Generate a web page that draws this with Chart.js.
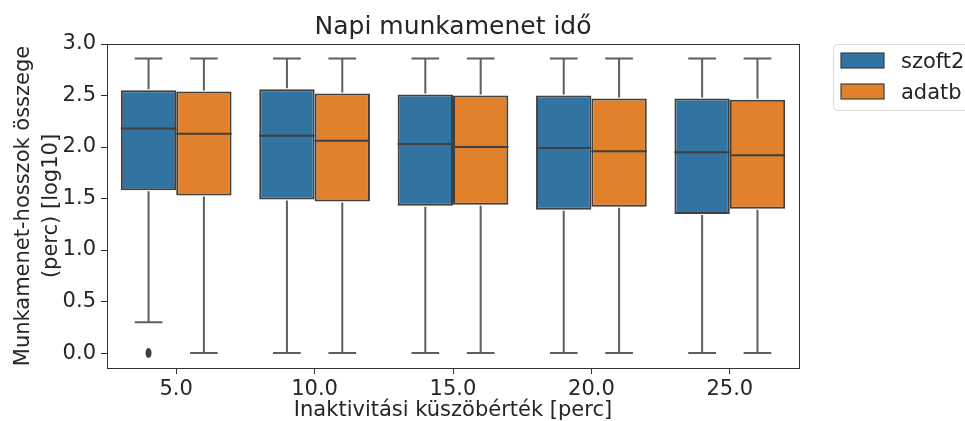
<!DOCTYPE html>
<html>
<head>
<meta charset="utf-8">
<script src="https://cdn.jsdelivr.net/npm/chart.js@4"></script>
<style>
  html, body { margin: 0; padding: 0; background: #fff; }
  #wrap { width: 965px; height: 421px; }
</style>
</head>
<body>
<div id="wrap"><canvas id="c" width="965" height="421"></canvas></div>
<script>
// Categories (inactivity threshold, minutes)
const categories = ['5.0', '10.0', '15.0', '20.0', '25.0'];
const seriesNames = ['szoft2', 'adatb'];

// Box statistics per series (log10 minutes)
const szoftQ1     = [1.58, 1.49, 1.43, 1.39, 1.35];
const szoftMedian = [2.18, 2.11, 2.03, 1.99, 1.95];
const szoftQ3     = [2.55, 2.56, 2.51, 2.50, 2.47];
const szoftLow    = [0.30, 0.00, 0.00, 0.00, 0.00];
const szoftHigh   = [2.86, 2.86, 2.86, 2.86, 2.86];
const szoftOutliers = [[0.0], [], [], [], []];

const adatbQ1     = [1.53, 1.47, 1.44, 1.42, 1.40];
const adatbMedian = [2.13, 2.06, 2.00, 1.96, 1.92];
const adatbQ3     = [2.54, 2.52, 2.50, 2.47, 2.46];
const adatbLow    = [0.00, 0.00, 0.00, 0.00, 0.00];
const adatbHigh   = [2.86, 2.86, 2.86, 2.86, 2.86];
const adatbOutliers = [[], [], [], [], []];

const yTicks = [0, 0.5, 1.0, 1.5, 2.0, 2.5, 3.0];

const colors = {
    blue: '#3274a1',
    orange: '#e1812c',
    edge: '#3f3f3f',
    whisker: '#5e5e5e',
    text: '#262626'
};

const FONT = 'DejaVu Sans';

const stats = [
    { q1: szoftQ1, med: szoftMedian, q3: szoftQ3, lo: szoftLow, hi: szoftHigh, out: szoftOutliers },
    { q1: adatbQ1, med: adatbMedian, q3: adatbQ3, lo: adatbLow, hi: adatbHigh, out: adatbOutliers }
];

// whiskers, caps, medians, fliers, frame, title and legend
const boxPlugin = {
    id: 'boxExtras',
    afterDatasetsDraw(chart) {
        const ctx = chart.ctx;
        const y = chart.scales.y;
        ctx.save();
        chart.data.datasets.forEach((ds, di) => {
            const meta = chart.getDatasetMeta(di);
            const s = stats[di];
            meta.data.forEach((bar, i) => {
                const x = bar.x, w = bar.width;
                const yHi = y.getPixelForValue(s.hi[i]);
                const yLo = y.getPixelForValue(s.lo[i]);
                ctx.strokeStyle = colors.whisker;
                ctx.lineWidth = 2;
                ctx.beginPath();
                ctx.moveTo(x, y.getPixelForValue(s.q3[i]) - 1);
                ctx.lineTo(x, yHi);
                ctx.moveTo(x, y.getPixelForValue(s.q1[i]) + 1);
                ctx.lineTo(x, yLo);
                ctx.moveTo(x - w / 4, yHi);
                ctx.lineTo(x + w / 4, yHi);
                ctx.moveTo(x - w / 4, yLo);
                ctx.lineTo(x + w / 4, yLo);
                ctx.stroke();
                // median
                ctx.strokeStyle = colors.edge;
                ctx.lineWidth = 2;
                ctx.beginPath();
                ctx.moveTo(x - w / 2, y.getPixelForValue(s.med[i]));
                ctx.lineTo(x + w / 2, y.getPixelForValue(s.med[i]));
                ctx.stroke();
                // fliers
                ctx.fillStyle = colors.edge;
                s.out[i].forEach(v => {
                    ctx.beginPath();
                    ctx.ellipse(x, y.getPixelForValue(v), 3, 5, 0, 0, Math.PI * 2);
                    ctx.fill();
                });
            });
        });
        ctx.restore();
    },
    afterDraw(chart) {
        const ctx = chart.ctx;
        const a = chart.chartArea;
        ctx.save();
        // axes frame
        ctx.strokeStyle = '#333';
        ctx.lineWidth = 1;
        ctx.strokeRect(a.left + 0.5, a.top + 0.5, a.right - a.left, a.bottom - a.top);
        // title
        ctx.fillStyle = colors.text;
        ctx.font = '25px "' + FONT + '"';
        ctx.textAlign = 'center';
        ctx.textBaseline = 'alphabetic';
        ctx.fillText('Napi munkamenet idő', (a.left + a.right) / 2, 34);
        // legend
        const lx = 833, ly = 44;
        ctx.strokeStyle = '#d9d9d9';
        ctx.lineWidth = 1;
        ctx.beginPath();
        ctx.roundRect(lx + 0.5, ly + 0.5, 160, 66, 4);
        ctx.stroke();
        [colors.blue, colors.orange].forEach((c, k) => {
            const py = 53 + k * 31;
            ctx.fillStyle = c;
            ctx.fillRect(841, py, 43, 15);
            ctx.strokeStyle = colors.edge;
            ctx.lineWidth = 1.2;
            ctx.strokeRect(841, py, 43, 15);
            ctx.fillStyle = colors.text;
            ctx.font = '21px "' + FONT + '"';
            ctx.textAlign = 'left';
            ctx.textBaseline = 'alphabetic';
            ctx.fillText(seriesNames[k], 901, py + 15);
        });
        ctx.restore();
    }
};

const datasets = stats.map((s, k) => ({
    label: seriesNames[k],
    data: s.q1.map((v, i) => [v, s.q3[i]]),
    backgroundColor: k === 0 ? colors.blue : colors.orange,
    borderColor: colors.edge,
    borderWidth: 2,
    borderSkipped: false,
    categoryPercentage: 0.8,
    barPercentage: 1.0
}));

new Chart(document.getElementById('c'), {
    type: 'bar',
    data: { labels: categories, datasets: datasets },
    options: {
        responsive: false,
        animation: false,
        layout: { padding: { top: 44, right: 166, left: 0, bottom: 0 } },
        plugins: {
            legend: { display: false },
            title: { display: false },
            tooltip: { enabled: false }
        },
        scales: {
            x: {
                offset: true,
                grid: { display: true, offset: false, drawOnChartArea: false, tickLength: 6, color: '#333' },
                border: { display: false },
                ticks: { color: colors.text, font: { family: FONT, size: 21 }, padding: 3 },
                title: {
                    display: true,
                    text: 'Inaktivitási küszöbérték [perc]',
                    color: colors.text,
                    font: { family: FONT, size: 21, lineHeight: 1.0 },
                    padding: { top: 0, bottom: 0 }
                },
                afterFit: s => { s.height = 53; }
            },
            y: {
                min: -0.145,
                max: 3.0,
                afterBuildTicks: s => { s.ticks = yTicks.map(v => ({ value: v })); },
                grid: { display: true, drawOnChartArea: false, tickLength: 6, color: '#333' },
                border: { display: false },
                ticks: {
                    color: colors.text,
                    font: { family: FONT, size: 21 },
                    padding: 5,
                    callback: v => Number(v).toFixed(1)
                },
                title: {
                    display: true,
                    text: ['Munkamenet-hosszok összege', '(perc) [log10]'],
                    color: colors.text,
                    font: { family: FONT, size: 21, lineHeight: 1.33 },
                    padding: { top: 10, bottom: 0 }
                },
                afterFit: s => { s.width = 107; }
            }
        }
    },
    plugins: [boxPlugin]
});
</script>
</body>
</html>
